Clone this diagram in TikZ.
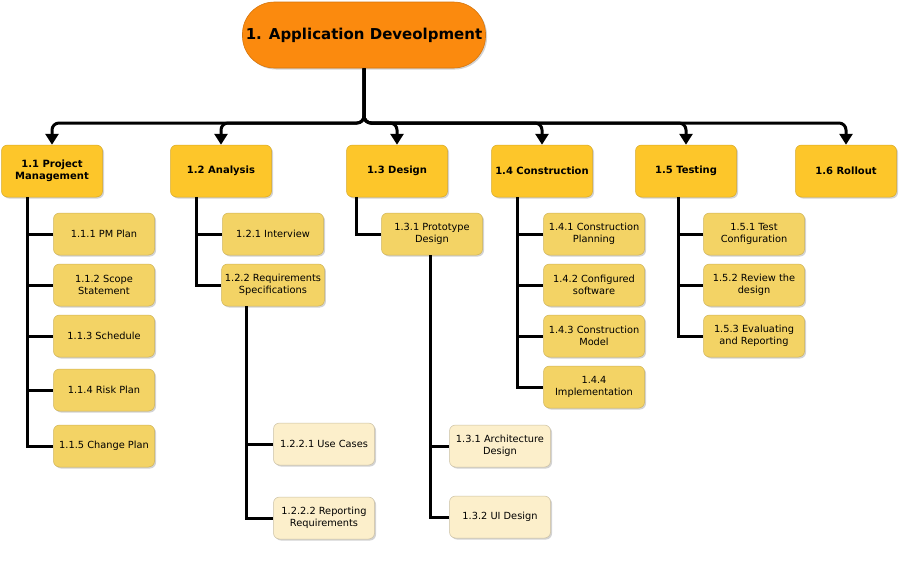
\documentclass[tikz,border=0pt]{standalone}
\usepackage{fontspec}
\setmainfont{DejaVu Sans}
\usetikzlibrary{positioning,shadows,arrows.meta}
\definecolor{rootc}{HTML}{FB8A0E}
\definecolor{onec}{HTML}{FDC62A}
\definecolor{twoc}{HTML}{F3D365}
\definecolor{threec}{HTML}{FCEFCB}

\begin{document}
\begin{tikzpicture}[x=1pt,y=-1pt,line width=3pt]
\tikzstyle{rt} = [fill=rootc,draw=rootc!85!black,line width=0.6pt,rounded corners=32pt,minimum width=242pt,minimum height=66pt,font=\fontsize{15}{17}\selectfont\bfseries,drop shadow={shadow xshift=1.5pt,shadow yshift=-1.5pt,opacity=0.35}]
\tikzstyle{lone} = [fill=onec,draw=onec!85!black,line width=0.5pt,rounded corners=6pt,minimum width=101pt,minimum height=52pt,align=center,font=\fontsize{10}{12}\selectfont\bfseries,drop shadow={shadow xshift=1.5pt,shadow yshift=-1.5pt,opacity=0.35}]
\tikzstyle{ltwo} = [fill=twoc,draw=twoc!85!black,line width=0.5pt,rounded corners=6pt,minimum width=101pt,minimum height=42pt,align=center,font=\fontsize{9.8}{12}\selectfont,drop shadow={shadow xshift=1.5pt,shadow yshift=-1.5pt,opacity=0.35}]
\tikzstyle{lthree} = [ltwo,fill=threec,draw=threec!80!black]
\tikzstyle{arr} = [-{Triangle[width=13pt,length=11pt]},rounded corners=7pt]
\useasboundingbox (0,0) rectangle (900,560);
% top
\node[rt] (root) at (364,35) {1. Application Deveolpment};
% level 1
\node[lone] (pm) at (52,171) {1.1 Project\\Management};
\node[lone] (an) at (221,171) {1.2 Analysis};
\node[lone] (de) at (397,171) {1.3 Design};
\node[lone] (co) at (542,171) {1.4 Construction};
\node[lone] (te) at (686,171) {1.5 Testing};
\node[lone] (ro) at (846,171) {1.6 Rollout};
\foreach \c in {pm,an,de,co,te,ro}
  \draw[arr] (root.south) -- (364,123) -| (\c.north);
% level 2
\node[ltwo] (pm1) at (104,234) {1.1.1 PM Plan};
\node[ltwo] (pm2) at (104,285) {1.1.2 Scope\\Statement};
\node[ltwo] (pm3) at (104,336) {1.1.3 Schedule};
\node[ltwo] (pm4) at (104,390) {1.1.4 Risk Plan};
\node[ltwo] (pm5) at (104,446) {1.1.5 Change Plan};
\node[ltwo] (an1) at (273,234) {1.2.1 Interview};
\node[ltwo] (an2) at (273,285) {1.2.2 Requirements\\Specifications};
\node[ltwo] (de1) at (432,234) {1.3.1 Prototype\\Design};
\node[ltwo] (co1) at (594,234) {1.4.1 Construction\\Planning};
\node[ltwo] (co2) at (594,285) {1.4.2 Configured\\software};
\node[ltwo] (co3) at (594,336) {1.4.3 Construction\\Model};
\node[ltwo] (co4) at (594,387) {1.4.4\\Implementation};
\node[ltwo] (te1) at (754,234) {1.5.1 Test\\Configuration};
\node[ltwo] (te2) at (754,285) {1.5.2 Review the\\design};
\node[ltwo] (te3) at (754,336) {1.5.3 Evaluating\\and Reporting};
% level 3
\node[lthree] (an21) at (324,444) {1.2.2.1 Use Cases};
\node[lthree] (an22) at (324,518) {1.2.2.2 Reporting\\Requirements};
\node[lthree] (de11) at (500,446) {1.3.1 Architecture\\Design};
\node[lthree] (de12) at (500,517) {1.3.2 UI Design};
% trunks
\coordinate (pmt) at (27,197);
\coordinate (ant) at (196,197);
\coordinate (det) at (356,197);
\coordinate (cot) at (517,197);
\coordinate (tet) at (678,197);
\coordinate (an2t) at (246,306);
\coordinate (de1t) at (430,255);
\foreach \c in {pm1,pm2,pm3,pm4,pm5} \draw (pmt) |- (\c.west);
\foreach \c in {an1,an2} \draw (ant) |- (\c.west);
\draw (det) |- (de1.west);
\foreach \c in {co1,co2,co3,co4} \draw (cot) |- (\c.west);
\foreach \c in {te1,te2,te3} \draw (tet) |- (\c.west);
\foreach \c in {an21,an22} \draw (an2t) |- (\c.west);
\foreach \c in {de11,de12} \draw (de1t) |- (\c.west);
\end{tikzpicture}
\end{document}
